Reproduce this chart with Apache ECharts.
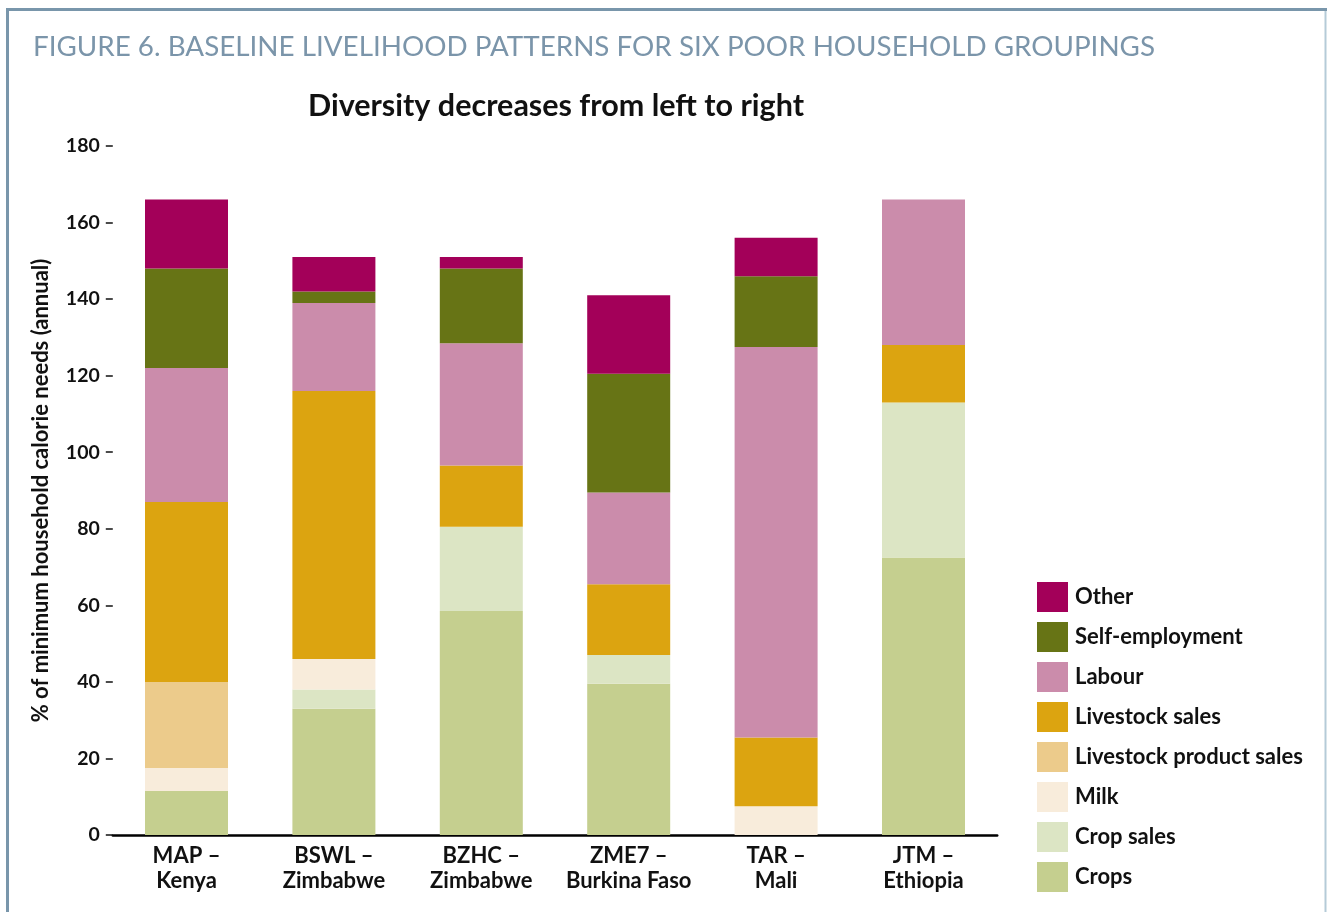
<!DOCTYPE html>
<html lang="en">
<head>
    <meta charset="UTF-8">
    <title>Baseline livelihood patterns</title>
    <style>
        html, body { margin: 0; padding: 0; background: #fff; }
        #main { width: 1327px; height: 912px; }
    </style>
</head>
<body>
<div id="main"></div>
<script src="https://cdn.jsdelivr.net/npm/echarts@6/dist/echarts.min.js"></script>
<script type="text/javascript">
    // categories (two-line labels)
    var groups = ['MAP –\nKenya', 'BSWL –\nZimbabwe', 'BZHC –\nZimbabwe', 'ZME7 –\nBurkina Faso', 'TAR –\nMali', 'JTM –\nEthiopia'];

    // % of minimum household calorie needs, one array per source
    var crops = [11.5, 33, 58.5, 39.5, 0, 72.5];
    var cropSales = [0, 5, 22, 7.5, 0, 40.5];
    var milk = [6, 8, 0, 0, 7.5, 0];
    var livestockProductSales = [22.5, 0, 0, 0, 0, 0];
    var livestockSales = [47, 70, 16, 18.5, 18, 15];
    var labour = [35, 23, 32, 24, 102, 38];
    var selfEmployment = [26, 3, 19.5, 31, 18.5, 0];
    var other = [18, 9, 3, 20.5, 10, 0];

    var yTicks = [0, 20, 40, 60, 80, 100, 120, 140, 160, 180];

    var font = 'Lato';
    var myChart = echarts.init(document.getElementById('main'));

    function bar(name, data, color) {
        return {
            name: name,
            type: 'bar',
            stack: 'total',
            barWidth: 83,
            data: data,
            itemStyle: {color: color},
            emphasis: {disabled: true}
        };
    }

    var option = {
        backgroundColor: '#fff',
        animation: false,
        title: [
            {
                text: 'FIGURE 6. BASELINE LIVELIHOOD PATTERNS FOR SIX POOR HOUSEHOLD GROUPINGS',
                left: 28,
                top: 28,
                textStyle: {fontFamily: font, fontWeight: 'normal', fontSize: 27.8, color: '#7b95aa'}
            },
            {
                text: 'Diversity decreases from left to right',
                left: 551,
                textAlign: 'center',
                top: 86,
                textStyle: {fontFamily: font, fontWeight: 'bold', fontSize: 30.5, color: '#111'}
            }
        ],
        graphic: [
            // frame
            {type: 'rect', shape: {x: 7.5, y: 9.5, width: 1340, height: 940},
                style: {fill: 'none', stroke: '#7996ab', lineWidth: 3}, silent: true},
            {type: 'line', shape: {x1: 1325.5, y1: 11, x2: 1325.5, y2: 912},
                style: {stroke: '#b5cbd8', lineWidth: 2}, silent: true}
        ],
        legend: {
            orient: 'vertical',
            left: 1032,
            top: 577,
            itemWidth: 31,
            itemHeight: 30,
            itemGap: 10,
            icon: 'rect',
            selectedMode: false,
            textStyle: {fontFamily: font, fontWeight: 'bold', fontSize: 22, color: '#111', padding: [0, 0, 0, 2]},
            data: ['Other', 'Self-employment', 'Labour', 'Livestock sales', 'Livestock product sales', 'Milk', 'Crop sales', 'Crops']
        },
        grid: {left: 112.8, right: 329.8, top: 146, bottom: 77},
        xAxis: {
            type: 'category',
            data: groups,
            axisLine: {show: true, lineStyle: {color: '#000', width: 2.5}},
            axisTick: {show: false},
            axisLabel: {
                interval: 0,
                margin: 8,
                fontFamily: font,
                fontWeight: 'bold',
                fontSize: 22,
                lineHeight: 25,
                color: '#111'
            }
        },
        yAxis: {
            type: 'value',
            min: yTicks[0],
            max: yTicks[yTicks.length - 1],
            interval: 20,
            name: '% of minimum household calorie needs (annual)',
            nameLocation: 'middle',
            nameGap: 61,
            nameRotate: 90,
            nameTextStyle: {fontFamily: font, fontWeight: 'bold', fontSize: 22, color: '#111'},
            splitLine: {show: false},
            axisLine: {show: false},
            axisTick: {show: true, length: 7, lineStyle: {color: '#111', width: 1.5}},
            axisLabel: {
                margin: 13,
                fontFamily: font,
                fontWeight: 'bold',
                fontSize: 19.5,
                color: '#111'
            }
        },
        series: [
            bar('Crops', crops, '#c5cf8f'),
            bar('Crop sales', cropSales, '#dce5c4'),
            bar('Milk', milk, '#f8ecdb'),
            bar('Livestock product sales', livestockProductSales, '#eccb8b'),
            bar('Livestock sales', livestockSales, '#dca410'),
            bar('Labour', labour, '#cb8cab'),
            bar('Self-employment', selfEmployment, '#677415'),
            bar('Other', other, '#a30059')
        ]
    };
    myChart.setOption(option);
</script>
</body>
</html>
